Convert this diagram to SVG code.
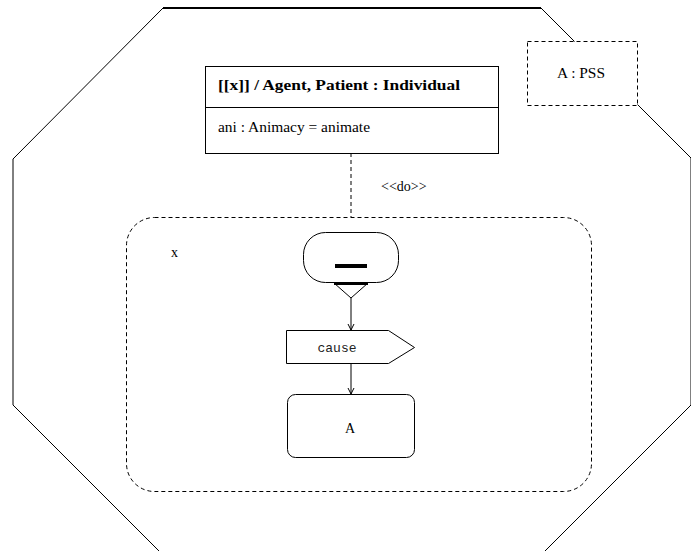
<svg xmlns="http://www.w3.org/2000/svg" width="691" height="551" viewBox="0 0 691 551">
  <defs>
    <style>
      .line { fill: none; stroke: #000; stroke-width: 1; }
      .dash { fill: none; stroke: #000; stroke-width: 1; stroke-dasharray: 4 3; }
      .note { fill: #fff; stroke: #000; stroke-width: 1; stroke-dasharray: 4 3; }
      .box { fill: #fff; stroke: #000; stroke-width: 1; }
      .serif { font-family: "Liberation Serif", "Times New Roman", serif; font-size: 14px; fill: #000; }
      .bold { font-weight: bold; }
      .mono { font-family: "Liberation Mono", "Courier New", monospace; font-size: 13px; fill: #222; }
      .mid { text-anchor: middle; }
    </style>
    <marker id="open-arrow" viewBox="0 0 8 8" refX="7" refY="4" markerWidth="8" markerHeight="8" markerUnits="userSpaceOnUse" orient="auto">
      <path d="M1,1 L7,4 L1,7" fill="none" stroke="#000" stroke-width="1"/>
    </marker>
  </defs>
  <rect width="691" height="551" fill="#fff"/>

  <!-- outer octagonal frame -->
  <g id="frame">
    <polyline class="line" points="541,8 691,158 691,405 545,551"/>
    <polyline class="line" points="163,8 13,159 13,405 159,551"/>
    <line x1="163" y1="8" x2="541" y2="8" stroke="#000" stroke-width="2"/>
  </g>

  <!-- connectors -->
  <g id="connectors">
    <line class="dash" x1="351" y1="153" x2="351" y2="217"/>
    <line class="line" x1="351" y1="298" x2="351" y2="330" marker-end="url(#open-arrow)"/>
    <line class="line" x1="351" y1="364" x2="351" y2="394" marker-end="url(#open-arrow)"/>
  </g>

  <text class="serif" x="381" y="191">&lt;&lt;do&gt;&gt;</text>

  <!-- class box -->
  <g id="individual">
    <rect class="box" x="205.5" y="66.5" width="293" height="87"/>
    <line class="line" x1="205.5" y1="107.5" x2="498.5" y2="107.5"/>
    <text class="serif bold" x="218" y="90" font-size="15" textLength="242" lengthAdjust="spacingAndGlyphs">[[x]] / Agent, Patient : Individual</text>
    <text class="serif" x="218" y="132" textLength="152" lengthAdjust="spacingAndGlyphs">ani : Animacy = animate</text>
  </g>

  <!-- PSS note -->
  <g id="pss">
    <rect class="note" x="527.5" y="41.5" width="110" height="64"/>
    <text class="serif mid" x="581" y="78" textLength="48" lengthAdjust="spacingAndGlyphs">A : PSS</text>
  </g>

  <!-- do region -->
  <g id="region-x">
    <rect class="dash" x="126.5" y="217.5" width="465" height="274" rx="28" ry="28"/>
    <text class="serif" x="171" y="257" font-size="13">x</text>
  </g>

  <!-- start node -->
  <g id="start">
    <rect class="box" x="303.5" y="232.5" width="95" height="50" rx="22" ry="22"/>
    <rect x="335" y="264" width="32" height="4" fill="#000"/>
    <path d="M334,283 L368,283 L351,298 Z" fill="#fff" stroke="#000" stroke-width="1"/>
    <line x1="334" y1="283.5" x2="368" y2="283.5" stroke="#000" stroke-width="3"/>
  </g>

  <!-- cause signal -->
  <g id="cause">
    <path class="box" d="M286.5,330.5 L388.5,330.5 L414.5,347.5 L388.5,363.5 L286.5,363.5 Z"/>
    <text class="mono mid" x="337" y="352">cause</text>
  </g>

  <!-- state A -->
  <g id="state-a">
    <rect class="box" x="287.5" y="394.5" width="127" height="63" rx="8" ry="8"/>
    <text class="serif mid" x="350" y="433">A</text>
  </g>
</svg>
